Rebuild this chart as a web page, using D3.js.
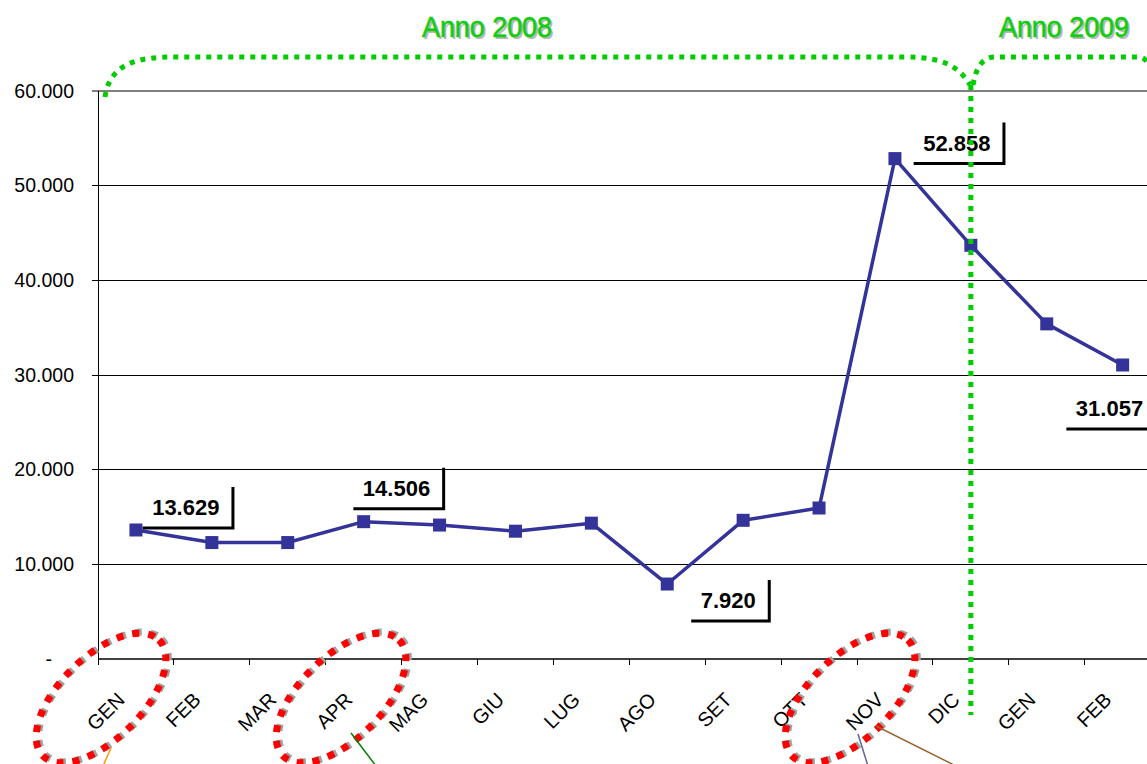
<!DOCTYPE html>
<html>
<head>
<meta charset="utf-8">
<script src="https://cdn.jsdelivr.net/npm/d3@7"></script>
<style>
  body { margin: 0; background: #fff; }
  svg { display: block; font-family: Arial, "Liberation Sans", sans-serif; }
</style>
</head>
<body>
<svg id="chart" width="1147" height="764"></svg>
<script>
// months on the x axis (2008 then Jan/Feb 2009)
var months = ["GEN", "FEB", "MAR", "APR", "MAG", "GIU", "LUG", "AGO", "SET", "OTT", "NOV", "DIC", "GEN", "FEB"];
var values = [13629, 12300, 12300, 14506, 14150, 13500, 14350, 7920, 14650, 15950, 52858, 43700, 35400, 31057];
var yTicks = [0, 10000, 20000, 30000, 40000, 50000, 60000];
var labelled = [0, 3, 7, 10, 13];
var years = ["Anno 2008", "Anno 2009"];

// label box placement, relative to the point
var labelPos = {
    0: { dx: 97, dy: -2 },
    3: { dx: 80, dy: -13 },
    7: { dx: 102, dy: 37 },
    10: { dx: 109, dy: 5 },
    13: { dx: 34, dy: 64 }
};

var svg = d3.select("#chart");
var margin = { top: 91, left: 98, bottom: 659 };
var bandW = 75.9;

var x = d3.scaleBand()
    .domain(d3.range(months.length))
    .range([margin.left, margin.left + bandW * months.length])
    .paddingInner(0).paddingOuter(0);

var y = d3.scaleLinear().domain([0, 60000]).range([margin.bottom, margin.top]);

var fmt = function(v) {
    if (v === 0) return "-";
    return d3.format(",")(v).replace(/,/g, ".");
};

function cx(i) { return x(i) + x.bandwidth() / 2; }

// gridlines
svg.append("g").selectAll("line.grid")
    .data(yTicks.filter(function(d) { return d > 0; }))
    .enter().append("line")
    .attr("class", "grid")
    .attr("x1", margin.left - 6)
    .attr("x2", 1147)
    .attr("y1", function(d) { return y(d); })
    .attr("y2", function(d) { return y(d); })
    .attr("stroke", function(d) { return d === 60000 ? "#808080" : "#000"; })
    .attr("stroke-width", function(d) { return d === 60000 ? 1.5 : 1; })
    .attr("shape-rendering", "crispEdges");

// y axis
svg.append("line")
    .attr("x1", margin.left).attr("x2", margin.left)
    .attr("y1", y(60000)).attr("y2", margin.bottom + 6)
    .attr("stroke", "#000").attr("shape-rendering", "crispEdges");

svg.append("g").selectAll("text.ytick")
    .data(yTicks)
    .enter().append("text")
    .attr("class", "ytick")
    .attr("x", function(d) { return d === 0 ? 52 : 74; })
    .attr("y", function(d) { return y(d); })
    .attr("dy", "0.35em")
    .attr("text-anchor", "end")
    .style("font-size", "19.5px")
    .text(fmt);

// x axis
svg.append("line")
    .attr("x1", margin.left).attr("x2", 1147)
    .attr("y1", margin.bottom).attr("y2", margin.bottom)
    .attr("stroke", "#000").attr("stroke-width", 1.5);

svg.append("g").selectAll("line.xtick")
    .data(d3.range(1, months.length + 1))
    .enter().append("line")
    .attr("x1", function(i) { return margin.left + i * bandW; })
    .attr("x2", function(i) { return margin.left + i * bandW; })
    .attr("y1", margin.bottom).attr("y2", margin.bottom + 6)
    .attr("stroke", "#000").attr("shape-rendering", "crispEdges");

svg.append("g").selectAll("text.xtick")
    .data(months)
    .enter().append("text")
    .attr("class", "xtick")
    .attr("transform", function(d, i) {
        return "translate(" + (cx(i) - 10) + "," + (margin.bottom + 42) + ") rotate(-45)";
    })
    .attr("text-anchor", "end")
    .style("font-size", "20px")
    .text(function(d) { return d; });

// series line + markers
var line = d3.line()
    .x(function(d, i) { return cx(i); })
    .y(function(d) { return y(d); });

svg.append("path")
    .datum(values)
    .attr("d", line)
    .attr("fill", "none")
    .attr("stroke", "#333399")
    .attr("stroke-width", 3.5)
    .attr("stroke-linejoin", "round");

svg.append("g").selectAll("rect.marker")
    .data(values)
    .enter().append("rect")
    .attr("class", "marker")
    .attr("x", function(d, i) { return cx(i) - 6.5; })
    .attr("y", function(d) { return y(d) - 6.5; })
    .attr("width", 13).attr("height", 13)
    .attr("fill", "#333399");

// data labels: right + bottom border boxes, sized to the text
var boxH = 41;
var lab = svg.append("g").selectAll("g.lab")
    .data(labelled)
    .enter().append("g")
    .attr("class", "lab")
    .attr("transform", function(i) {
        var p = labelPos[i];
        return "translate(" + (cx(i) + p.dx) + "," + (y(values[i]) + p.dy) + ")";
    });

lab.each(function(i) {
    var g = d3.select(this);
    var t = g.append("text")
        .attr("y", -13)
        .attr("text-anchor", "middle")
        .style("font-size", "22px")
        .style("font-weight", "bold")
        .text(fmt(values[i]));
    var w = t.node().getComputedTextLength() + 23;
    t.attr("x", -w / 2 - 2);
    g.append("path")
        .attr("d", "M" + (-w) + ",0 H0 V" + (-boxH))
        .attr("fill", "none")
        .attr("stroke", "#000")
        .attr("stroke-width", 3);
});

// green dotted braces and year divider
var green = "#00cc00";
var braces = [
    "M105,97 C110,62 140,57 175,57 L905,57 C945,57 960,68 970,85",
    "M973,85 C976,68 982,57 995,57 L1138,57 C1145,57 1147,62 1150,66"
];
svg.append("g").selectAll("path.brace")
    .data(braces)
    .enter().append("path")
    .attr("d", function(d) { return d; })
    .attr("fill", "none")
    .attr("stroke", green)
    .attr("stroke-width", 5)
    .attr("stroke-dasharray", "5 6");

svg.append("line")
    .attr("x1", x(11) + bandW * 0.5).attr("x2", x(11) + bandW * 0.5)
    .attr("y1", 85).attr("y2", 715)
    .attr("stroke", green)
    .attr("stroke-width", 5)
    .attr("stroke-dasharray", "5 6");

var yearX = [487, 1064];
var yearG = svg.append("g").selectAll("g.year")
    .data(years)
    .enter().append("g")
    .attr("class", "year")
    .attr("transform", function(d, i) { return "translate(" + (yearX[i] - 65) + ",37)"; });

yearG.append("text")
    .attr("x", 2).attr("y", 2)
    .attr("textLength", 130)
    .attr("lengthAdjust", "spacingAndGlyphs")
    .style("font-size", "30px")
    .attr("fill", "#b8b8b8")
    .text(function(d) { return d; });

yearG.append("text")
    .attr("textLength", 130)
    .attr("lengthAdjust", "spacingAndGlyphs")
    .style("font-size", "30px")
    .attr("fill", "#11cc11")
    .attr("stroke", "#11cc11")
    .attr("stroke-width", 0.6)
    .text(function(d) { return d; });

// red dotted circles round some month labels
var circles = [
    { cx: 101, cy: 698 },
    { cx: 341, cy: 698 },
    { cx: 850, cy: 698 }
];
var circ = svg.append("g").selectAll("g.circ")
    .data(circles)
    .enter().append("g")
    .attr("transform", function(d) { return "translate(" + d.cx + "," + d.cy + ") rotate(-45)"; });

circ.append("ellipse")
    .attr("cx", 2.5).attr("cy", 1)
    .attr("rx", 82).attr("ry", 41)
    .attr("fill", "none")
    .attr("stroke", "#a0a0a0")
    .attr("stroke-width", 7)
    .attr("stroke-dasharray", "7 9");

circ.append("ellipse")
    .attr("rx", 82).attr("ry", 41)
    .attr("fill", "none")
    .attr("stroke", "#ff0000")
    .attr("stroke-width", 7)
    .attr("stroke-dasharray", "7 9");

// thin connector lines leaving the picture
var connectors = [
    { x1: 111, y1: 748, x2: 103, y2: 766, c: "#ff9900" },
    { x1: 351, y1: 733, x2: 376, y2: 766, c: "#008000" },
    { x1: 858, y1: 734, x2: 868, y2: 766, c: "#666699" },
    { x1: 876, y1: 726, x2: 956, y2: 766, c: "#996633" }
];
svg.append("g").selectAll("line.conn")
    .data(connectors)
    .enter().append("line")
    .attr("x1", function(d) { return d.x1; })
    .attr("y1", function(d) { return d.y1; })
    .attr("x2", function(d) { return d.x2; })
    .attr("y2", function(d) { return d.y2; })
    .attr("stroke", function(d) { return d.c; })
    .attr("stroke-width", 1.5);
</script>
</body>
</html>
